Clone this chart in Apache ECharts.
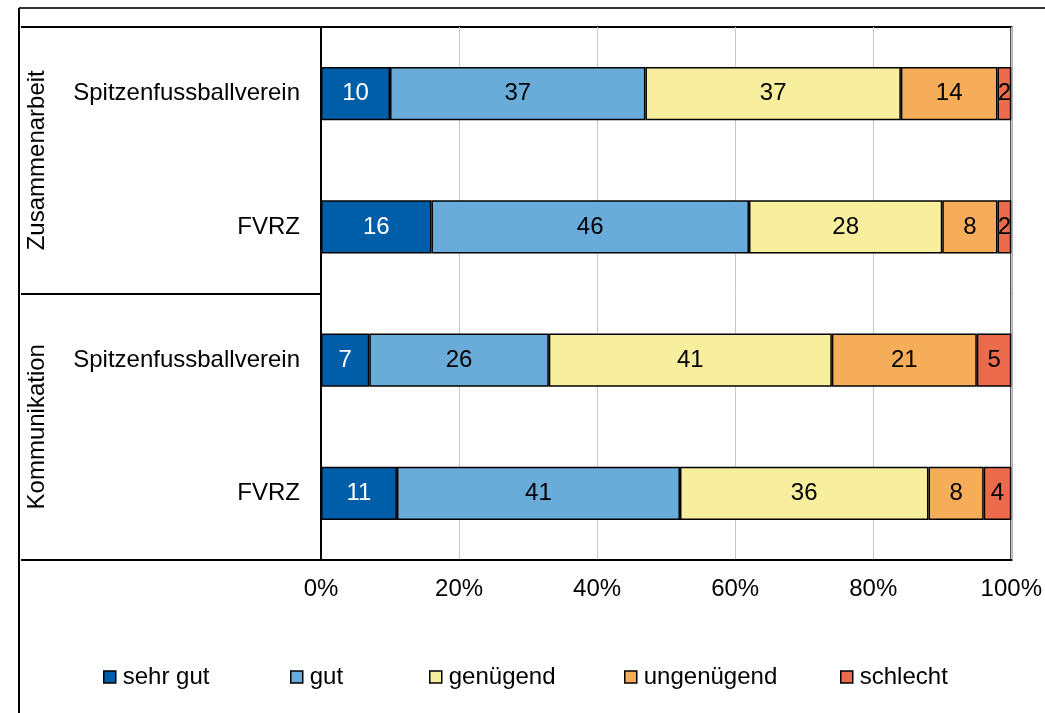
<!DOCTYPE html>
<html>
<head>
<meta charset="utf-8">
<script src="https://cdn.jsdelivr.net/npm/echarts@6/dist/echarts.min.js"></script>
<style>
  html, body { margin: 0; padding: 0; background: #fff; }
  #main { width: 1045px; height: 713px; }
</style>
</head>
<body>
<div id="main"></div>
<script>
// Kategorien (von oben nach unten)
var categories = ['Spitzenfussballverein', 'FVRZ', 'Spitzenfussballverein ', 'FVRZ '];
var groups = ['Zusammenarbeit', 'Kommunikation'];
var seriesNames = ['sehr gut', 'gut', 'genügend', 'ungenügend', 'schlecht'];
var colors = ['#005ea8', '#6aacd9', '#f8ef9e', '#f5ad5a', '#ec6b4c'];

// Werte in Prozent pro Kategorie
var sehrGut = [10, 16, 7, 11];
var gut = [37, 46, 26, 41];
var genuegend = [37, 28, 41, 36];
var ungenuegend = [14, 8, 21, 8];
var schlecht = [2, 2, 5, 4];
var values = [sehrGut, gut, genuegend, ungenuegend, schlecht];

var xTicks = [0, 20, 40, 60, 80, 100];

// Legendenpositionen (linker Rand des Symbols)
var legendLeft = [103, 290, 429, 624, 840];

var font = 'Liberation Sans, Arial, sans-serif';
var fs = 24;
var chart = echarts.init(document.getElementById('main'));

var option = {
    backgroundColor: '#fff',
    color: colors,
    textStyle: { fontFamily: font },
    grid: {
        left: 321,
        right: 32,
        top: 27,
        bottom: 153,
        show: true,
        borderColor: '#000',
        borderWidth: 2,
        containLabel: false
    },
    legend: seriesNames.map(function (name, i) {
        return {
            left: legendLeft[i] - 5,
            top: 660,
            itemWidth: 12,
            itemHeight: 12,
            icon: 'rect',
            itemStyle: { borderColor: '#000', borderWidth: 1.5 },
            textStyle: { fontSize: fs, color: '#000', fontFamily: font, padding: [0, 0, 0, 2] },
            data: [name]
        };
    }),
    xAxis: {
        type: 'value',
        min: xTicks[0],
        max: xTicks[xTicks.length - 1],
        interval: 20,
        axisLine: { show: true, lineStyle: { color: '#000', width: 2 } },
        axisTick: { show: false },
        axisLabel: { formatter: '{value}%', fontSize: fs, color: '#000', margin: 17, fontFamily: font },
        splitLine: { show: true, lineStyle: { color: '#c8c8c8', width: 1 } }
    },
    yAxis: [{
        type: 'category',
        position: 'left',
        inverse: true,
        data: categories,
        axisLine: { show: true, lineStyle: { color: '#000', width: 2 } },
        axisTick: { show: false },
        axisLabel: {
            fontSize: fs, color: '#000', margin: 21, fontFamily: font,
            formatter: function (v) { return v.trim(); }
        }
    }, {
        // Gruppenachse: Striche als Trennlinien, Beschriftung gedreht
        type: 'category',
        position: 'left',
        inverse: true,
        data: groups,
        axisLine: { show: false },
        axisTick: { show: true, length: 300, lineStyle: { color: '#000', width: 2 } },
        axisLabel: { rotate: 90, fontSize: fs, color: '#000', margin: 272, fontFamily: font }
    }],
    series: seriesNames.map(function (name, i) {
        return {
            name: name,
            type: 'bar',
            stack: 'total',
            yAxisIndex: 0,
            barWidth: '40%',
            data: values[i],
            itemStyle: { color: colors[i], borderColor: '#000', borderWidth: 1.5 },
            label: {
                show: true,
                position: 'inside',
                fontSize: fs,
                fontFamily: font,
                color: i === 0 ? '#fff' : '#000'
            }
        };
    }),
    graphic: [
        { type: 'line', shape: { x1: 19, y1: 8, x2: 19, y2: 713 }, style: { stroke: '#000', lineWidth: 2 } },
        { type: 'line', shape: { x1: 19, y1: 8, x2: 1045, y2: 8 }, style: { stroke: '#333', lineWidth: 2 } }
    ]
};

chart.setOption(option);
</script>
</body>
</html>
